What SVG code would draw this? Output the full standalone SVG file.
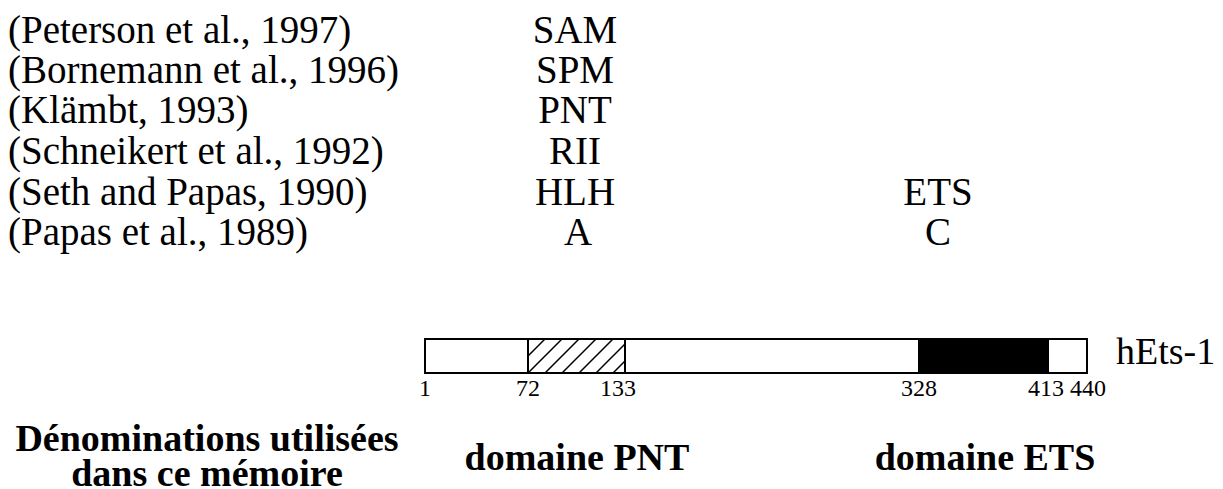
<svg xmlns="http://www.w3.org/2000/svg" width="1223" height="489" viewBox="0 0 1223 489" font-family="'Liberation Serif', 'Times New Roman', 'DejaVu Serif', serif">
<style>
text{fill:#000}
.t{font-size:39px}
.m{font-size:39px;text-anchor:middle}
.h{font-size:38px}
.n{font-size:24px;text-anchor:middle}
.b{font-size:38px;font-weight:bold;text-anchor:middle}
.box{fill:#fff;stroke:#000;stroke-width:2}
</style>
<defs>
<pattern id="hatch" patternUnits="userSpaceOnUse" width="17" height="17" patternTransform="translate(528,339)">
<path d="M-2,19 L19,-2 M-2,2 L2,-2 M15,19 L19,15" stroke="#000" stroke-width="1.5"/>
</pattern>
</defs>
<g id="refs">
<text class="t" x="8" y="43">(Peterson et al., 1997)</text>
<text class="t" x="8" y="83">(Bornemann et al., 1996)</text>
<text class="t" x="8" y="123">(Klämbt, 1993)</text>
<text class="t" x="8" y="164">(Schneikert et al., 1992)</text>
<text class="t" x="8" y="205">(Seth and Papas, 1990)</text>
<text class="t" x="8" y="245">(Papas et al., 1989)</text>
</g>
<g id="names-pnt">
<text class="m" x="575" y="43">SAM</text>
<text class="m" x="575" y="83">SPM</text>
<text class="m" x="575" y="123">PNT</text>
<text class="m" x="575" y="164">RII</text>
<text class="m" x="575" y="205">HLH</text>
<text class="m" x="578" y="245">A</text>
</g>
<g id="names-ets">
<text class="m" x="938" y="205">ETS</text>
<text class="m" x="938" y="245">C</text>
</g>
<g id="protein">
<rect class="box" x="425" y="339" width="662" height="34"/>
<rect x="528" y="339" width="97" height="34" fill="url(#hatch)" stroke="#000" stroke-width="2"/>
<rect x="919" y="339" width="129" height="34" fill="#000" stroke="#000" stroke-width="2"/>
<text class="h" x="1116" y="364">hEts-1</text>
</g>
<g id="positions">
<text class="n" x="425" y="396">1</text>
<text class="n" x="528" y="396">72</text>
<text class="n" x="618" y="396">133</text>
<text class="n" x="919" y="396">328</text>
<text class="n" x="1046" y="396">413</text>
<text class="n" x="1088" y="396">440</text>
</g>
<g id="legend">
<text class="b" x="207" y="451">Dénominations utilisées</text>
<text class="b" x="207" y="486">dans ce mémoire</text>
<text class="b" x="577" y="470">domaine PNT</text>
<text class="b" x="985" y="470">domaine ETS</text>
</g>
</svg>
